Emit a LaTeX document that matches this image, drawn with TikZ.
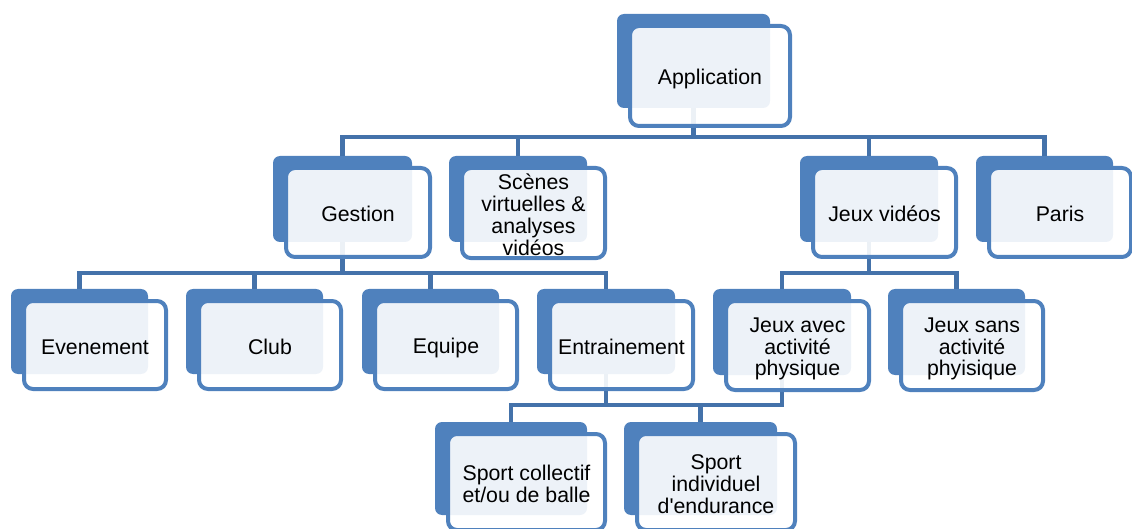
\documentclass[tikz,border=0pt]{standalone}
\usepackage{fontspec}
\newfontfamily\arial{Liberation Sans}
\usetikzlibrary{calc}
\definecolor{accent}{RGB}{79,129,189}
\definecolor{connc}{RGB}{68,114,170}
\tikzset{
  backbox/.style={fill=accent, draw=none, rounded corners=7pt, inner sep=0pt, outer sep=0pt, anchor=north west},
  frontbox/.style={draw=accent, line width=4pt, fill=white, fill opacity=0.9, text opacity=1, rounded corners=9pt, inner sep=0pt, outer sep=0pt, anchor=north west, align=center, font=\arial\fontsize{21.3}{21.7}\selectfont},
  conn/.style={draw=connc, line width=4.5pt}
}
\newcommand\topstrut{\rule{0pt}{22pt}}
\newcommand\botstrut{\rule[-3pt]{0pt}{3pt}}
\newcommand\tbox[6]{%
  \node[frontbox, minimum width={(#4+5)*1pt}, minimum height={(#5+3)*1pt}] (#1) at ($(#1-b.north west)+(13,12)$) {\topstrut #6\botstrut};
}
\begin{document}
\begin{tikzpicture}[x=1pt,y=-1pt]
\useasboundingbox (0,0) rectangle (1132,529);
\clip (0,0) rectangle (1132,529);
% back rectangles
\node[backbox, minimum width=153pt, minimum height=94pt] (app-b) at (617,14) {};
\node[backbox, minimum width=139pt, minimum height=86pt] (ges-b) at (273,156) {};
\node[backbox, minimum width=138pt, minimum height=86pt] (sce-b) at (449,156) {};
\node[backbox, minimum width=138pt, minimum height=86pt] (jv-b) at (800,156) {};
\node[backbox, minimum width=137pt, minimum height=86pt] (par-b) at (976,156) {};
\node[backbox, minimum width=137pt, minimum height=85pt] (eve-b) at (11,289) {};
\node[backbox, minimum width=137pt, minimum height=85pt] (clu-b) at (186,289) {};
\node[backbox, minimum width=137pt, minimum height=85pt] (equ-b) at (362,289) {};
\node[backbox, minimum width=138pt, minimum height=85pt] (ent-b) at (537,289) {};
\node[backbox, minimum width=138pt, minimum height=86pt] (jav-b) at (713,289) {};
\node[backbox, minimum width=137pt, minimum height=86pt] (jsa-b) at (888,289) {};
\node[backbox, minimum width=152pt, minimum height=93pt] (sco-b) at (435,422) {};
\node[backbox, minimum width=153pt, minimum height=93pt] (sin-b) at (624,422) {};
% buses
\coordinate (bus1) at (0,137);
\coordinate (bus2) at (0,273);
\coordinate (bus3) at (0,405);
% connectors
\foreach \c in {ges,sce,jv,par}{
  \draw[conn] (app-b.south) -- (app-b.south |- bus1) -| (\c-b.north);
}
\foreach \c in {eve,clu,equ,ent}{
  \draw[conn] (ges-b.south) -- (ges-b.south |- bus2) -| (\c-b.north);
}
\foreach \c in {jav,jsa}{
  \draw[conn] (jv-b.south) -- (jv-b.south |- bus2) -| (\c-b.north);
}
\foreach \c in {sco,sin}{
  \draw[conn] (ent-b.south) -- (ent-b.south |- bus3) -| (\c-b.north);
}
\draw[conn] (jav-b.south) -- (jav-b.south |- bus3) -| (sin-b.north);
% front boxes
\node[frontbox, minimum width=160pt, minimum height=100pt] (app) at ($(app-b.north west)+(13,12)$) {\topstrut Application\botstrut};
\tbox{ges}{273}{156}{139}{86}{Gestion}
\tbox{sce}{449}{156}{138}{86}{Scènes\\virtuelles \&\\analyses\\vidéos}
\tbox{jv}{800}{156}{138}{86}{Jeux vidéos}
\tbox{par}{976}{156}{137}{86}{Paris}
\tbox{eve}{11}{289}{137}{85}{Evenement}
\tbox{clu}{186}{289}{137}{85}{Club}
\tbox{equ}{362}{289}{137}{85}{Equipe}
\tbox{ent}{537}{289}{138}{85}{Entrainement}
\tbox{jav}{713}{289}{138}{86}{Jeux avec\\activité\\physique}
\tbox{jsa}{888}{289}{137}{86}{Jeux sans\\activité\\phyisique}
\tbox{sco}{435}{422}{152}{93}{Sport collectif\\et/ou de balle}
\tbox{sin}{624}{422}{153}{93}{Sport\\individuel\\d'endurance}
\end{tikzpicture}
\end{document}
